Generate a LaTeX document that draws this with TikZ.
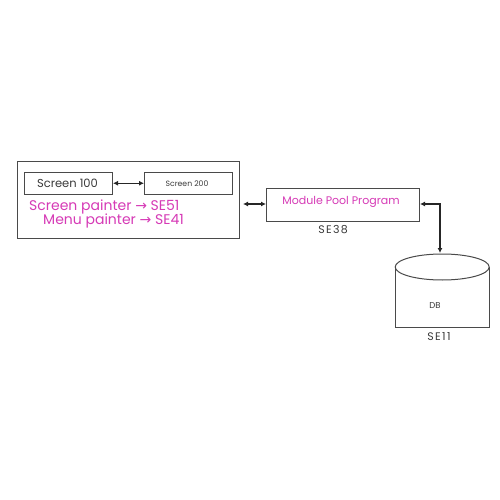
\documentclass[tikz,border=0pt]{standalone}
\usepackage{fontspec}
\setmainfont{Poppins}
\newfontfamily\spaced[LetterSpace=12]{Poppins}
\newfontfamily\arrowfont{DejaVu Sans}
\usetikzlibrary{arrows.meta}
\definecolor{pinktxt}{HTML}{D63AB6}
\definecolor{greytxt}{HTML}{3A3A3A}
\definecolor{lin}{HTML}{4A4A4A}
\tikzset{
  box/.style={draw=lin, line width=1pt, inner sep=0pt},
  conn/.style={draw=black!85, line width=1.3pt, {Latex[length=5pt,width=5pt]}-{Latex[length=5pt,width=5pt]}},
  lbl/.style={inner sep=0pt, text=greytxt},
}
\begin{document}
\begin{tikzpicture}[x=1pt,y=-1pt]
\useasboundingbox (0,0) rectangle (500,500);
\fill[white] (0,0) rectangle (500,500);
% outer box
\node[box, minimum width=222pt, minimum height=77pt, anchor=north west] (outer) at (17,161) {};
\node[box, minimum width=88pt, minimum height=21.5pt, anchor=north west] (s100) at (24,172) {};
\node[lbl, font=\fontsize{11.5}{13}\selectfont] at (67.5,183) {Screen 100};
\node[box, minimum width=88pt, minimum height=21.5pt, anchor=north west] (s200) at (144,172) {};
\node[lbl, font=\fontsize{7.7}{9}\selectfont] at (187,183.5) {Screen 200};
\draw[conn] (s100.east) -- (s200.west);
\node[lbl, text=pinktxt, font=\fontsize{14}{16}\selectfont, anchor=west] (sp) at (29,207) {Screen painter {\arrowfont →} SE51};
\node[lbl, text=pinktxt, font=\fontsize{14}{16}\selectfont, anchor=west] (mp) at (43,221) {Menu painter {\arrowfont →} SE41};
% module pool
\node[box, minimum width=153pt, minimum height=33pt, anchor=north west] (mod) at (266,188) {};
\node[lbl, text=pinktxt, font=\fontsize{11}{13}\selectfont] at (341,202) {Module Pool Program};
\node[lbl, font=\spaced\fontsize{11}{13}\selectfont] (se38) at (333,230) {SE38};
\coordinate (outR) at (243,204);
\draw[conn] (outR) -- (mod.west |- outR);
% cylinder
\node[inner sep=0pt, minimum width=94pt, minimum height=60pt, anchor=north west] (db) at (395,267) {};
\draw[draw=lin, line width=1pt] (db.north west) -- (db.south west) -- (db.south east) -- (db.north east);
\draw[draw=lin, line width=1pt, fill=white] (db.north) ellipse [x radius=47pt, y radius=13pt];
\coordinate (dbtop) at (440,253);
\node[lbl, font=\fontsize{8.5}{10}\selectfont] at (435,306) {DB};
\node[lbl, font=\spaced\fontsize{11}{13}\selectfont] (se11) at (439,337) {SE11};
\draw[conn] (mod.east |- outR) -| (dbtop);
\end{tikzpicture}
\end{document}
